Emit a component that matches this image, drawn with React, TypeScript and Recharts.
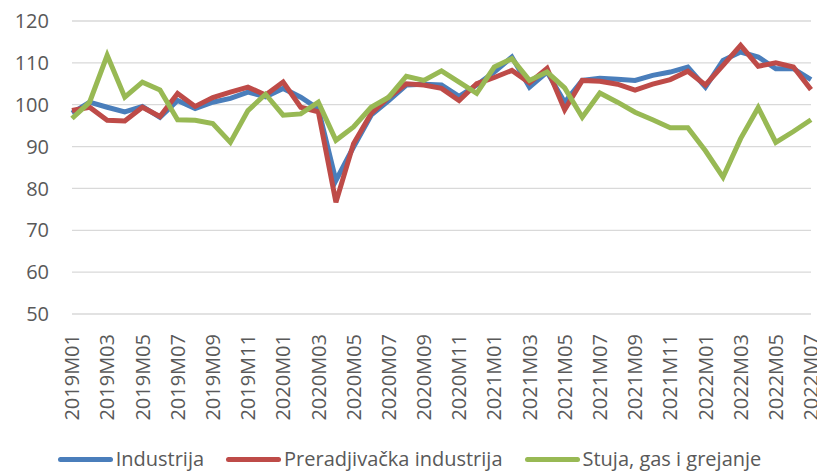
import { LineChart, Line, XAxis, YAxis, CartesianGrid, Legend } from "recharts";

const months = [
  "2019M01", "2019M02", "2019M03", "2019M04", "2019M05", "2019M06", "2019M07", "2019M08", "2019M09", "2019M10", "2019M11", "2019M12",
  "2020M01", "2020M02", "2020M03", "2020M04", "2020M05", "2020M06", "2020M07", "2020M08", "2020M09", "2020M10", "2020M11", "2020M12",
  "2021M01", "2021M02", "2021M03", "2021M04", "2021M05", "2021M06", "2021M07", "2021M08", "2021M09", "2021M10", "2021M11", "2021M12",
  "2022M01", "2022M02", "2022M03", "2022M04", "2022M05", "2022M06", "2022M07",
];

const industrija = [
  98, 100.6, 99.4, 98.3, 99.6, 97, 101, 99.1, 100.6, 101.5, 103, 101.9,
  103.9, 101.8, 99, 81.9, 89.9, 97.5, 101, 104.7, 104.9, 104.7, 102, 104.7,
  107.8, 111.4, 104.2, 107.8, 100.6, 105.8, 106.3, 106.1, 105.8, 107, 107.8, 109,
  104.2, 110.6, 112.6, 111.4, 108.6, 108.6, 106,
];

const preradjivacka = [
  98.6, 99.4, 96.3, 96.1, 99.4, 97.2, 102.7, 99.6, 101.7, 103, 104.2, 102.3,
  105.4, 99.4, 98.3, 76.7, 90.7, 97.9, 101.8, 105, 104.7, 103.9, 101, 105,
  106.5, 108.2, 105.2, 108.7, 98.8, 105.8, 105.6, 104.9, 103.5, 104.9, 106, 108,
  104.7, 109.4, 114.2, 109.2, 110, 109, 103.6,
];

const struja = [
  96.7, 100.6, 111.8, 101.8, 105.4, 103.5, 96.4, 96.3, 95.5, 91, 98.6, 102.5,
  97.5, 97.8, 100.6, 91.5, 94.7, 99.4, 101.8, 106.8, 105.8, 108.1, 105.4, 102.7,
  109, 111, 105.8, 107.8, 104, 97, 102.8, 100.6, 98.2, 96.4, 94.5, 94.5,
  89, 82.7, 91.9, 99.3, 91, 93.6, 96.4,
];

const yTicks = [50, 60, 70, 80, 90, 100, 110, 120];

const series = [
  { key: "industrija", name: "Industrija", color: "#4A7EBB" },
  { key: "preradjivacka", name: "Preradjivačka industrija", color: "#BE4B48" },
  { key: "struja", name: "Stuja, gas i grejanje", color: "#98B954" },
];

const data = months.map((m, i) => ({
  month: m,
  industrija: industrija[i],
  preradjivacka: preradjivacka[i],
  struja: struja[i],
}));

const FONT = "'Open Sans', sans-serif";
const TEXT = "#595959";

function MonthTick(props: any) {
  const { x, y, payload } = props;
  const ty = y + 18;
  return (
    <text
      x={x}
      y={ty}
      transform={`rotate(-90, ${x}, ${ty})`}
      textAnchor="end"
      dy="0.36em"
      fill={TEXT}
      fontSize={20}
      fontFamily={FONT}
    >
      {payload.value}
    </text>
  );
}

function LegendRow() {
  return (
    <div style={{ display: "flex", justifyContent: "center", alignItems: "center", fontFamily: FONT, fontSize: 20, color: TEXT, paddingLeft: 8, height: 26, lineHeight: "26px" }}>
      {series.map((s, i) => (
        <div key={s.key} style={{ display: "flex", alignItems: "center", marginLeft: i === 0 ? 0 : 22 }}>
          <span style={{ display: "inline-block", width: 55, height: 5, borderRadius: 3, background: s.color, marginRight: 3 }} />
          <span>{s.name}</span>
        </div>
      ))}
    </div>
  );
}

export default function App() {
  return (
    <div style={{ position: "fixed", left: 0, top: 0, background: "#fff" }}>
      <LineChart width={817} height={472} data={data} margin={{ top: 21, right: 6, left: 0, bottom: 0 }}>
        <CartesianGrid vertical={false} stroke="#d9d9d9" strokeWidth={1.3} />
        <XAxis
          dataKey="month"
          interval={1}
          axisLine={false}
          tickLine={false}
          tickSize={0}
          height={132}
          tick={<MonthTick />}
        />
        <YAxis
          domain={[50, 120]}
          ticks={yTicks}
          axisLine={false}
          tickLine={false}
          tickSize={0}
          tickMargin={23}
          width={72}
          tick={{ fill: TEXT, fontSize: 20, fontFamily: FONT }}
        />
        <Legend verticalAlign="bottom" height={26} content={() => <LegendRow />} />
        {series.map((s) => (
          <Line
            key={s.key}
            type="linear"
            dataKey={s.key}
            name={s.name}
            stroke={s.color}
            strokeWidth={5}
            dot={false}
            isAnimationActive={false}
          />
        ))}
      </LineChart>
    </div>
  );
}
